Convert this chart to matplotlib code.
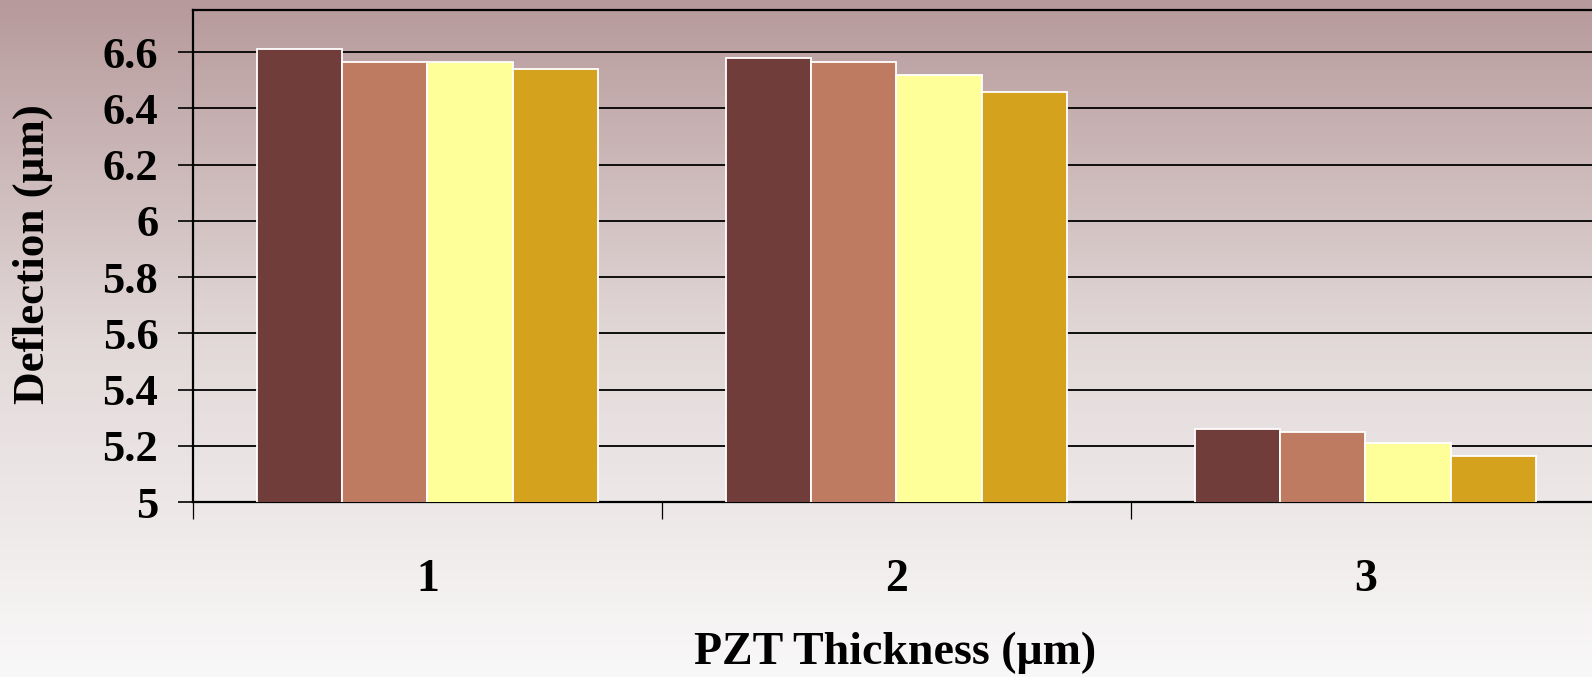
import numpy as np
import matplotlib
matplotlib.use("Agg")
import matplotlib.pyplot as plt
from matplotlib.colors import LinearSegmentedColormap

# data
thickness = ["1", "2", "3"]
series_a = [6.61, 6.58, 5.26]
series_b = [6.565, 6.565, 5.25]
series_c = [6.565, 6.52, 5.21]
series_d = [6.54, 6.46, 5.165]
colors = ["#713D3A", "#BF7A62", "#FFFF99", "#D4A21C"]
yticks = [5, 5.2, 5.4, 5.6, 5.8, 6, 6.2, 6.4, 6.6]
ytick_labels = ["5", "5.2", "5.4", "5.6", "5.8", "6", "6.2", "6.4", "6.6"]

plt.rcParams["font.family"] = ["Liberation Serif", "DejaVu Serif"]
plt.rcParams["font.weight"] = "bold"

fig = plt.figure(figsize=(15.92, 6.77), dpi=100)

# gradient background
bg = fig.add_axes([0, 0, 1, 1], zorder=0)
grad = LinearSegmentedColormap.from_list("bg", ["#B79A9B", "#E2D8D8", "#F9F8F8"])
bg.imshow(np.linspace(0, 1, 256).reshape(-1, 1), aspect="auto", cmap=grad,
          extent=[0, 1, 0, 1])
bg.axis("off")

ax = fig.add_axes([193 / 1592, 175 / 677, 1407 / 1592, 492 / 677], zorder=1)
ax.set_facecolor("none")

x = np.arange(len(thickness))
w = 0.182
for i, vals in enumerate([series_a, series_b, series_c, series_d]):
    ax.bar(x + (i - 1.5) * w, vals, w, color=colors[i], edgecolor="white",
           linewidth=1.3, zorder=3)

ax.set_ylim(5, 6.75)
ax.set_xlim(-0.5, 2.5)
ax.set_yticks(yticks)
ax.set_yticklabels(ytick_labels)
ax.tick_params(axis="y", direction="out", length=11, width=1.2, pad=14,
               labelsize=32)
ax.yaxis.grid(True, color="black", linewidth=1.3, zorder=1)
ax.set_axisbelow(True)

# category boundary ticks, labels at centres
ax.set_xticks([-0.5, 0.5, 1.5, 2.5])
ax.set_xticklabels([])
ax.set_xticks(x, minor=True)
ax.set_xticklabels(thickness, minor=True)
ax.tick_params(axis="x", which="major", direction="out", length=12, width=0.9)
ax.tick_params(axis="x", which="minor", length=0, pad=41, labelsize=33)

for s in ["top", "left", "bottom"]:
    ax.spines[s].set_linewidth(1.6)
ax.spines["right"].set_visible(False)

fig.text(33 / 1592, 1 - 254 / 677, "Deflection (μm)", rotation=90,
         ha="center", va="center", fontsize=32.5, fontweight="bold")
fig.text(895 / 1592, 1 - 653 / 677, "PZT Thickness (μm)",
         ha="center", va="center", fontsize=33, fontweight="bold")

fig.savefig("out.png", dpi=100)
